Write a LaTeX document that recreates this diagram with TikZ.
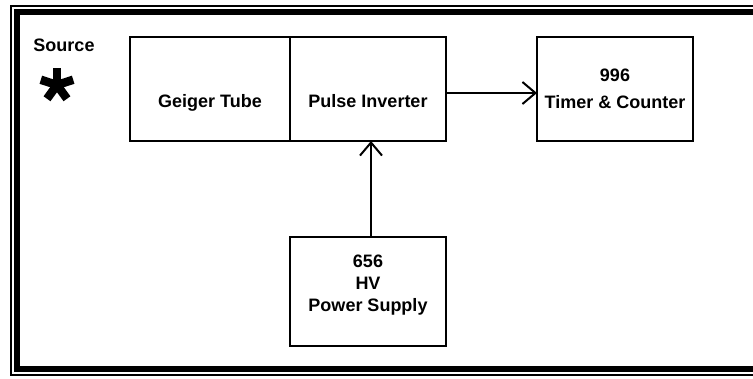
\documentclass[tikz,border=0pt]{standalone}
\usepackage{fontspec}
\setmainfont{Liberation Sans}
\usetikzlibrary{positioning,arrows.meta}

\begin{document}
\begin{tikzpicture}[
    x=1pt, y=-1pt,
    font=\bfseries\fontsize{18}{22}\selectfont,
    block/.style={rectangle, draw, line width=2pt, outer sep=0pt,
      minimum width=156pt, minimum height=104pt, align=center, inner sep=0pt},
    >={Straight Barb[length=13pt,width=22pt]}
  ]
    \useasboundingbox (0,0) rectangle (753,378);
    % frame, cut on the right
    \begin{scope}
      \clip (0,0) rectangle (753,378);
      \draw[line width=1.2pt] (11,6) rectangle (790,375);
      \draw[line width=6pt] (16.5,11.5) rectangle (785,368.5);
    \end{scope}

    \node (src) at (64,45) {Source};
    \coordinate (star) at (57,85);
    \foreach \a in {-90,-18,-162,54,126}
      \draw[line width=8.5pt] (star) -- ++(\a:17);

    \node[block, minimum width=160pt, text height=36pt, text depth=0pt] (gt) at (210,89) {Geiger Tube};
    \node[block, right=0pt of gt, text height=36pt, text depth=0pt] (pi) {Pulse Inverter};
    \node[block, right=91pt of pi] (tc) {996\\[5pt]Timer \& Counter};
    \node[block, below=96pt of pi, minimum height=109pt,
      label={[align=center, yshift=6pt]center:656\\HV\\Power Supply}] (ps) {};

    \draw[->, line width=2pt] ([yshift=-4pt]pi.east) -- ([yshift=-4pt]tc.west);
    \draw[->, line width=2pt] ([xshift=3pt]ps.north) -- ([xshift=3pt]pi.south);
  \end{tikzpicture}
\end{document}
